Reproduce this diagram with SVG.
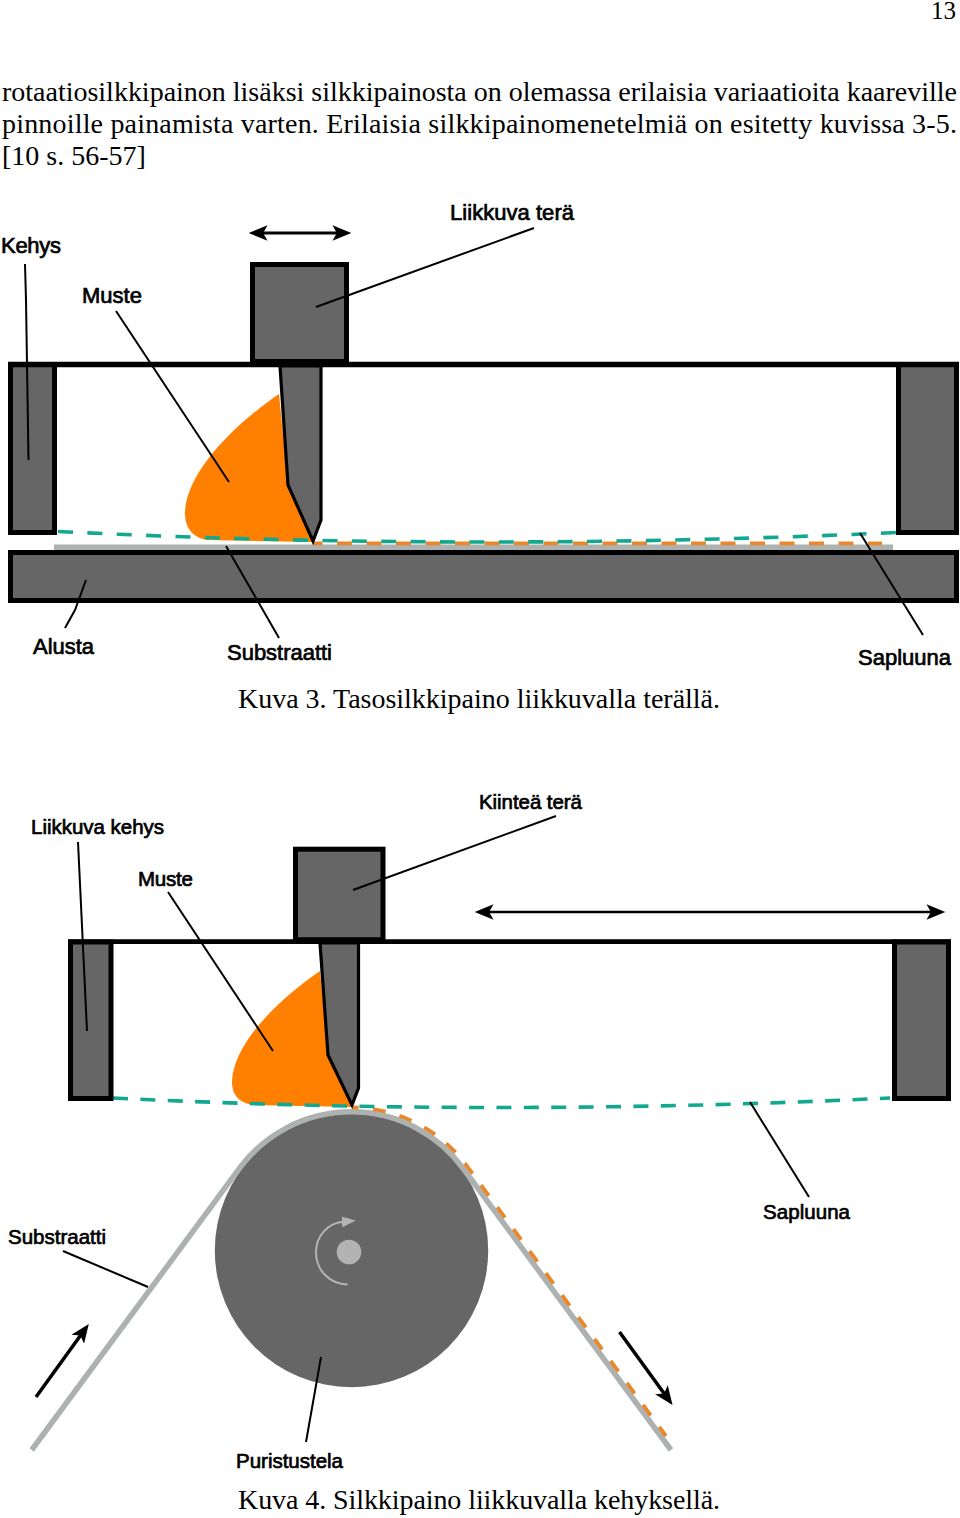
<svg xmlns="http://www.w3.org/2000/svg" width="960" height="1518" viewBox="0 0 960 1518">
<style>
.body{font-family:"Liberation Serif","Times New Roman",serif;font-size:28px;fill:#000}
.lab{font-family:"Liberation Sans",Arial,sans-serif;font-size:22px;fill:#000;stroke:#000;stroke-width:.7}
.lab2{font-size:20.5px}
.blk{fill:#666;stroke:#000;stroke-width:5}
.blade{fill:#666;stroke:#000;stroke-width:3.2;stroke-linejoin:miter}
.ink{fill:#ff7f00}
.lead{fill:none;stroke:#000;stroke-width:2}
.teal{fill:none;stroke:#12a88f;stroke-width:3.6;stroke-dasharray:15 14.4}
.odash{fill:none;stroke:#e8882a;stroke-width:3.8}
.sub{fill:none;stroke:#adb2b1;stroke-width:5.5}
.arw{fill:none;stroke:#000}
</style>
<defs>
<marker id="h" markerUnits="userSpaceOnUse" markerWidth="20" markerHeight="16" refX="5" refY="7" orient="auto-start-reverse" viewBox="0 0 18 14"><path d="M0 0L17 7L0 14L4 7Z" fill="#000"/></marker>
<marker id="g" markerUnits="userSpaceOnUse" markerWidth="14" markerHeight="12" refX="1" refY="5" orient="auto" viewBox="0 0 13 10"><path d="M0 0L13 5L0 10Z" fill="#b3b3b3"/></marker>
</defs>
<g id="page-text">
<text class="body" x="931" y="19" style="font-size:25px">13</text>
<text class="body" x="2" y="101" textLength="955">rotaatiosilkkipainon lisäksi silkkipainosta on olemassa erilaisia variaatioita kaareville</text>
<text class="body" x="2" y="133" textLength="955">pinnoille painamista varten. Erilaisia silkkipainomenetelmiä on esitetty kuvissa 3-5.</text>
<text class="body" x="2" y="165">[10 s. 56-57]</text>
<text class="body" x="238" y="708" textLength="482">Kuva 3. Tasosilkkipaino liikkuvalla terällä.</text>
<text class="body" x="238" y="1509" textLength="482">Kuva 4. Silkkipaino liikkuvalla kehyksellä.</text>
</g>
<g id="fig3">
<g id="f3-substrate"><rect x="54" y="544.5" width="839" height="5.5" fill="#adb2b1"/></g>
<g id="f3-ink"><path class="ink" d="M279 394C235 424 186 472 185 513C185 530 195 538 207 540L313 542L288 485Z"/></g>
<g id="f3-stencil-ink"><path class="odash" stroke-dasharray="15 14.5" stroke-dashoffset="5.5" d="M313 543.4H882"/></g>
<g id="f3-stencil"><path class="teal" d="M58 531.5Q477 552 896 532.5"/></g>
<g id="f3-frame-left"><rect class="blk" x="10.5" y="364.5" width="44" height="168"/></g>
<g id="f3-frame-right"><rect class="blk" x="898.5" y="364.5" width="58" height="168"/></g>
<g id="f3-frame-top"><path d="M8 364.5H959" stroke="#000" stroke-width="5.5"/></g>
<g id="f3-base"><rect class="blk" x="10.5" y="552.5" width="946" height="48"/></g>
<g id="f3-holder"><rect class="blk" x="252.5" y="264.5" width="94" height="97"/></g>
<g id="f3-blade"><path class="blade" d="M280 366H321V520L313 541L288 485Z"/></g>
<g id="f3-labels">
<text class="lab" x="450" y="220" textLength="124">Liikkuva terä</text>
<text class="lab" x="1" y="253" textLength="60">Kehys</text>
<text class="lab" x="82" y="303" textLength="60">Muste</text>
<text class="lab" x="33" y="654" textLength="61">Alusta</text>
<text class="lab" x="227" y="660" textLength="105">Substraatti</text>
<text class="lab" x="858" y="665" textLength="93">Sapluuna</text>
</g>
</g>
<g id="fig4">
<g id="f4-roller"><circle cx="351.5" cy="1250.5" r="136.7" fill="#666"/></g>
<g id="f4-axle"><circle cx="349" cy="1252" r="12.3" fill="#b3b3b3"/></g>
<g id="f4-substrate"><path class="sub" d="M31.7 1450L239.9 1167.7A139 139 0 0 1 462.5 1167.5L671 1450"/></g>
<g id="f4-ink"><path class="ink" d="M320 971C275 1002 233 1045 232 1082C232 1098 243 1104 255 1105L352 1107L328 1055Z"/></g>
<g id="f4-stencil-ink"><path class="odash" stroke-dasharray="13 14.3" stroke-dashoffset="6.3" d="M352 1107.5A143 143 0 0 1 465.9 1164.7L666 1436"/></g>
<g id="f4-stencil"><path class="teal" style="stroke-dasharray:15 12.4" d="M113 1098Q500 1117 890 1098"/></g>
<g id="f4-frame-left"><rect class="blk" x="70.5" y="942" width="40.5" height="156.5"/></g>
<g id="f4-frame-right"><rect class="blk" x="894.5" y="942" width="54" height="156.5"/></g>
<g id="f4-frame-top"><path d="M68 941.7H951" stroke="#000" stroke-width="4.8"/></g>
<g id="f4-holder"><rect class="blk" x="295.5" y="849.2" width="87.5" height="90.5"/></g>
<g id="f4-blade"><path class="blade" d="M320 943H358.5V1088L352 1105L328 1055Z"/></g>
<g id="f4-labels">
<text class="lab lab2" x="479" y="809" textLength="103">Kiinteä terä</text>
<text class="lab lab2" x="31" y="834" textLength="133">Liikkuva kehys</text>
<text class="lab lab2" x="138" y="886" textLength="55">Muste</text>
<text class="lab lab2" x="763" y="1219" textLength="87">Sapluuna</text>
<text class="lab lab2" x="8" y="1244" textLength="98">Substraatti</text>
<text class="lab lab2" x="236" y="1468" textLength="107">Puristustela</text>
</g>
</g>
<g id="connectors">
<path class="arw" stroke-width="3" d="M262 233H338" marker-start="url(#h)" marker-end="url(#h)"/>
<path class="lead" d="M25 264L26 300L28.5 460"/>
<path class="lead" d="M116 311L229 482"/>
<path class="lead" d="M534 228L316 307"/>
<path class="lead" d="M86 580L75 610L65 628"/>
<path class="lead" d="M226 546L279 638"/>
<path class="lead" d="M860 533L923 635"/>
<path class="arw" stroke-width="2.5" d="M488 912H932" marker-start="url(#h)" marker-end="url(#h)"/>
<path class="arw" stroke-width="3.5" d="M36 1397L81 1334.7" marker-end="url(#h)"/>
<path class="arw" stroke-width="3.5" d="M619.5 1332L664.7 1394.3" marker-end="url(#h)"/>
<path fill="none" stroke="#b3b3b3" stroke-width="2" d="M347.7 1284.5C329 1284 316 1270 316 1252C316 1236 328 1223 343 1221.7" marker-end="url(#g)"/>
<path class="lead" d="M556 816L353 890"/>
<path class="lead" d="M78 842L87 1031"/>
<path class="lead" d="M168 892L273 1051"/>
<path class="lead" d="M750 1102L809 1197"/>
<path class="lead" d="M63 1251L148 1287"/>
<path class="lead" d="M321 1357L306 1442"/>
</g>
</svg>
